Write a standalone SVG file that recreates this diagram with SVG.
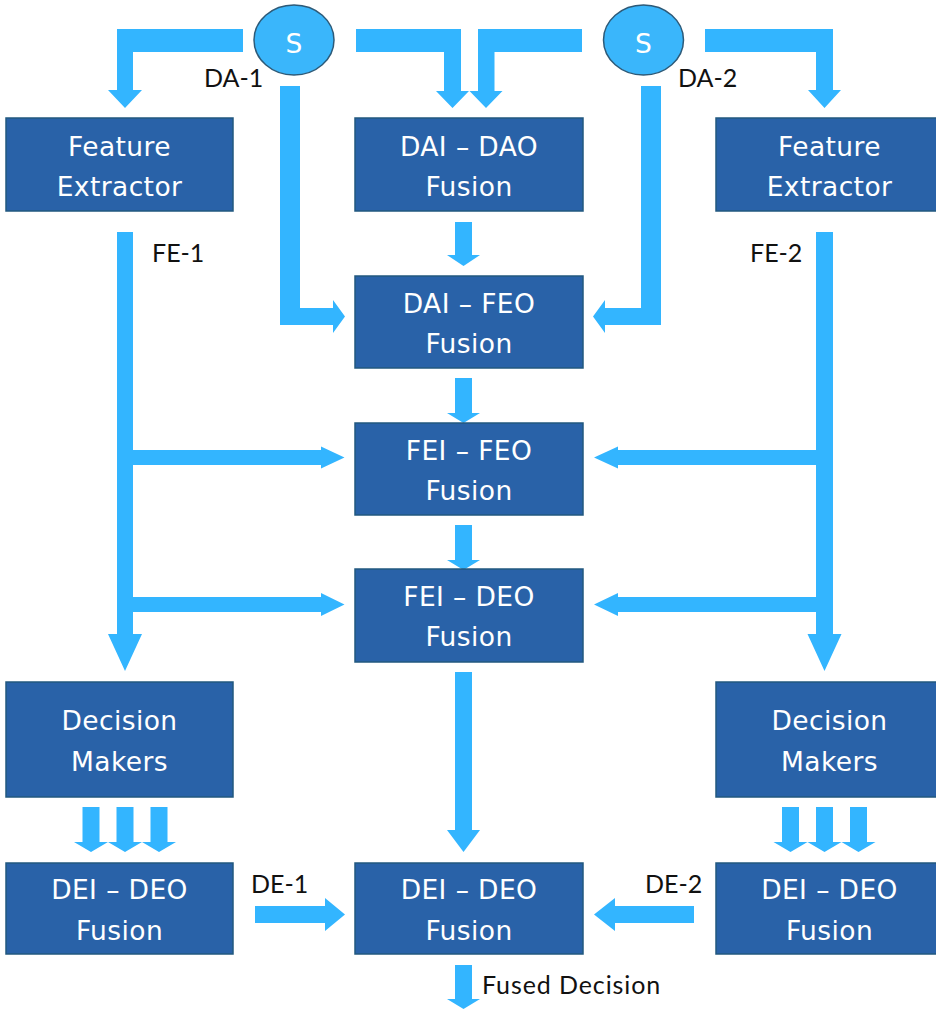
<svg xmlns="http://www.w3.org/2000/svg" width="936" height="1009" viewBox="0 0 936 1009">
  <style>
    .box { fill: #2962a8; stroke: #22587f; stroke-width: 1.5; }
    .btxt { font-family: "DejaVu Sans", "Open Sans", sans-serif; font-size: 26.5px; letter-spacing: 0.4px; fill: #ffffff; text-anchor: middle; }
    .arr { fill: #33b5ff; }
    .src { fill: #3ab6fb; stroke: #2d5a78; stroke-width: 1.5; }
    .lbl { font-family: Lato, "Liberation Sans", sans-serif; font-size: 25px; fill: #111111; }
  </style>
  <defs>
    <!-- short downward block arrow, origin at top-centre of the stem -->
    <polygon id="down3" points="-8.5,0 8.5,0 8.5,35 17,35 0,45 -17,35 -8.5,35"/>
  </defs>
  <rect width="936" height="1009" fill="#ffffff"/>

  <!-- connectors -->
  <g id="connectors" class="arr">
    <!-- sensor 1 to left feature extractor -->
    <polygon points="243,29 117,29 117,90 108,90 125,108 142,90 133,90 133,52 243,52"/>
    <!-- sensor 1 to DAI-DAO fusion -->
    <polygon points="356,29 461,29 461,91 469,91 452.5,108 436,91 444,91 444,52 356,52"/>
    <!-- sensor 2 to DAI-DAO fusion -->
    <polygon points="582,29 478,29 478,91 469.5,91 486,108 502.5,91 494.5,91 494.5,52 582,52"/>
    <!-- sensor 2 to right feature extractor -->
    <polygon points="705,29 833,29 833,90 841,90 824.5,108 808,90 816,90 816,52 705,52"/>
    <!-- sensor 1 to DAI-FEO fusion -->
    <polygon points="280,86 300,86 300,308 333,308 333,300 345,316.5 333,333 333,325 280,325"/>
    <!-- sensor 2 to DAI-FEO fusion -->
    <polygon points="661,86 641,86 641,308 605,308 605,300 593,316.5 605,333 605,325 661,325"/>
    <!-- central chain -->
    <polygon points="455,222 472,222 472,255 480,255 463.5,266 447,255 455,255"/>
    <polygon points="455,378 472,378 472,413 480,413 463.5,423 447,413 455,413"/>
    <polygon points="455,525 472,525 472,560 480,560 463.5,570 447,560 455,560"/>
    <polygon points="455,672 472,672 472,830 480,830 463.5,852 447,830 455,830"/>
    <polygon points="455,965 472,965 472,999 480,999 463.5,1009 447,999 455,999"/>
    <!-- FE-1 trunk with branches -->
    <polygon points="117,232 133,232 133,450 321,450 321,446.5 344.5,457.5 321,468.5 321,465 133,465 133,597 321,597 321,593 344.5,604.5 321,616 321,612 133,612 133,634 142,634 125,671 108,634 117,634"/>
    <!-- FE-2 trunk with branches -->
    <polygon points="833,232 816,232 816,450 618,450 618,446.5 594,457.5 618,468.5 618,465 816,465 816,597 618,597 618,593 594,604.5 618,616 618,612 816,612 816,634 807.5,634 824.5,671 841.5,634 833,634"/>
    <!-- decision makers to decision fusion -->
    <use href="#down3" x="91" y="807"/>
    <use href="#down3" x="125" y="807"/>
    <use href="#down3" x="159" y="807"/>
    <use href="#down3" x="790.5" y="807"/>
    <use href="#down3" x="824.5" y="807"/>
    <use href="#down3" x="858.5" y="807"/>
    <!-- DE-1 / DE-2 -->
    <polygon points="255,906 325,906 325,898 345,914.5 325,931 325,923 255,923"/>
    <polygon points="694,906 615,906 615,898 594,914.5 615,931 615,923 694,923"/>
  </g>

  <!-- connector labels -->
  <g id="labels" class="lbl">
    <text x="204" y="87">DA-1</text>
    <text x="678" y="87">DA-2</text>
    <text x="152" y="262">FE-1</text>
    <text x="750" y="262">FE-2</text>
    <text x="251" y="893">DE-1</text>
    <text x="645" y="893">DE-2</text>
    <text x="482" y="994" letter-spacing="0.9">Fused Decision</text>
  </g>

  <!-- sensors -->
  <g id="sensor1">
    <ellipse class="src" cx="294" cy="40" rx="40" ry="35"/>
    <text class="btxt" x="294" y="53">S</text>
  </g>
  <g id="sensor2">
    <ellipse class="src" cx="643.5" cy="40" rx="40" ry="35"/>
    <text class="btxt" x="643.5" y="53">S</text>
  </g>

  <!-- processing blocks -->
  <g id="fe1">
    <rect class="box" x="6" y="118" width="227" height="93"/>
    <text class="btxt" x="119.5" y="156">Feature</text>
    <text class="btxt" x="119.5" y="196">Extractor</text>
  </g>
  <g id="dai-dao">
    <rect class="box" x="355" y="118" width="228" height="93"/>
    <text class="btxt" x="469" y="156">DAI – DAO</text>
    <text class="btxt" x="469" y="196">Fusion</text>
  </g>
  <g id="fe2">
    <rect class="box" x="716" y="118" width="227" height="93"/>
    <text class="btxt" x="829.5" y="156">Feature</text>
    <text class="btxt" x="829.5" y="196">Extractor</text>
  </g>
  <g id="dai-feo">
    <rect class="box" x="355" y="276" width="228" height="92"/>
    <text class="btxt" x="469" y="313">DAI – FEO</text>
    <text class="btxt" x="469" y="353">Fusion</text>
  </g>
  <g id="fei-feo">
    <rect class="box" x="355" y="423" width="228" height="92"/>
    <text class="btxt" x="469" y="460">FEI – FEO</text>
    <text class="btxt" x="469" y="500">Fusion</text>
  </g>
  <g id="fei-deo">
    <rect class="box" x="355" y="569" width="228" height="93"/>
    <text class="btxt" x="469" y="606">FEI – DEO</text>
    <text class="btxt" x="469" y="646">Fusion</text>
  </g>
  <g id="dm1">
    <rect class="box" x="6" y="682" width="227" height="115"/>
    <text class="btxt" x="119.5" y="730">Decision</text>
    <text class="btxt" x="119.5" y="771">Makers</text>
  </g>
  <g id="dm2">
    <rect class="box" x="716" y="682" width="227" height="115"/>
    <text class="btxt" x="829.5" y="730">Decision</text>
    <text class="btxt" x="829.5" y="771">Makers</text>
  </g>
  <g id="dei-deo-1">
    <rect class="box" x="6" y="863" width="227" height="91"/>
    <text class="btxt" x="119.5" y="899">DEI – DEO</text>
    <text class="btxt" x="119.5" y="940">Fusion</text>
  </g>
  <g id="dei-deo-c">
    <rect class="box" x="355" y="863" width="228" height="91"/>
    <text class="btxt" x="469" y="899">DEI – DEO</text>
    <text class="btxt" x="469" y="940">Fusion</text>
  </g>
  <g id="dei-deo-2">
    <rect class="box" x="716" y="863" width="227" height="91"/>
    <text class="btxt" x="829.5" y="899">DEI – DEO</text>
    <text class="btxt" x="829.5" y="940">Fusion</text>
  </g>
</svg>
